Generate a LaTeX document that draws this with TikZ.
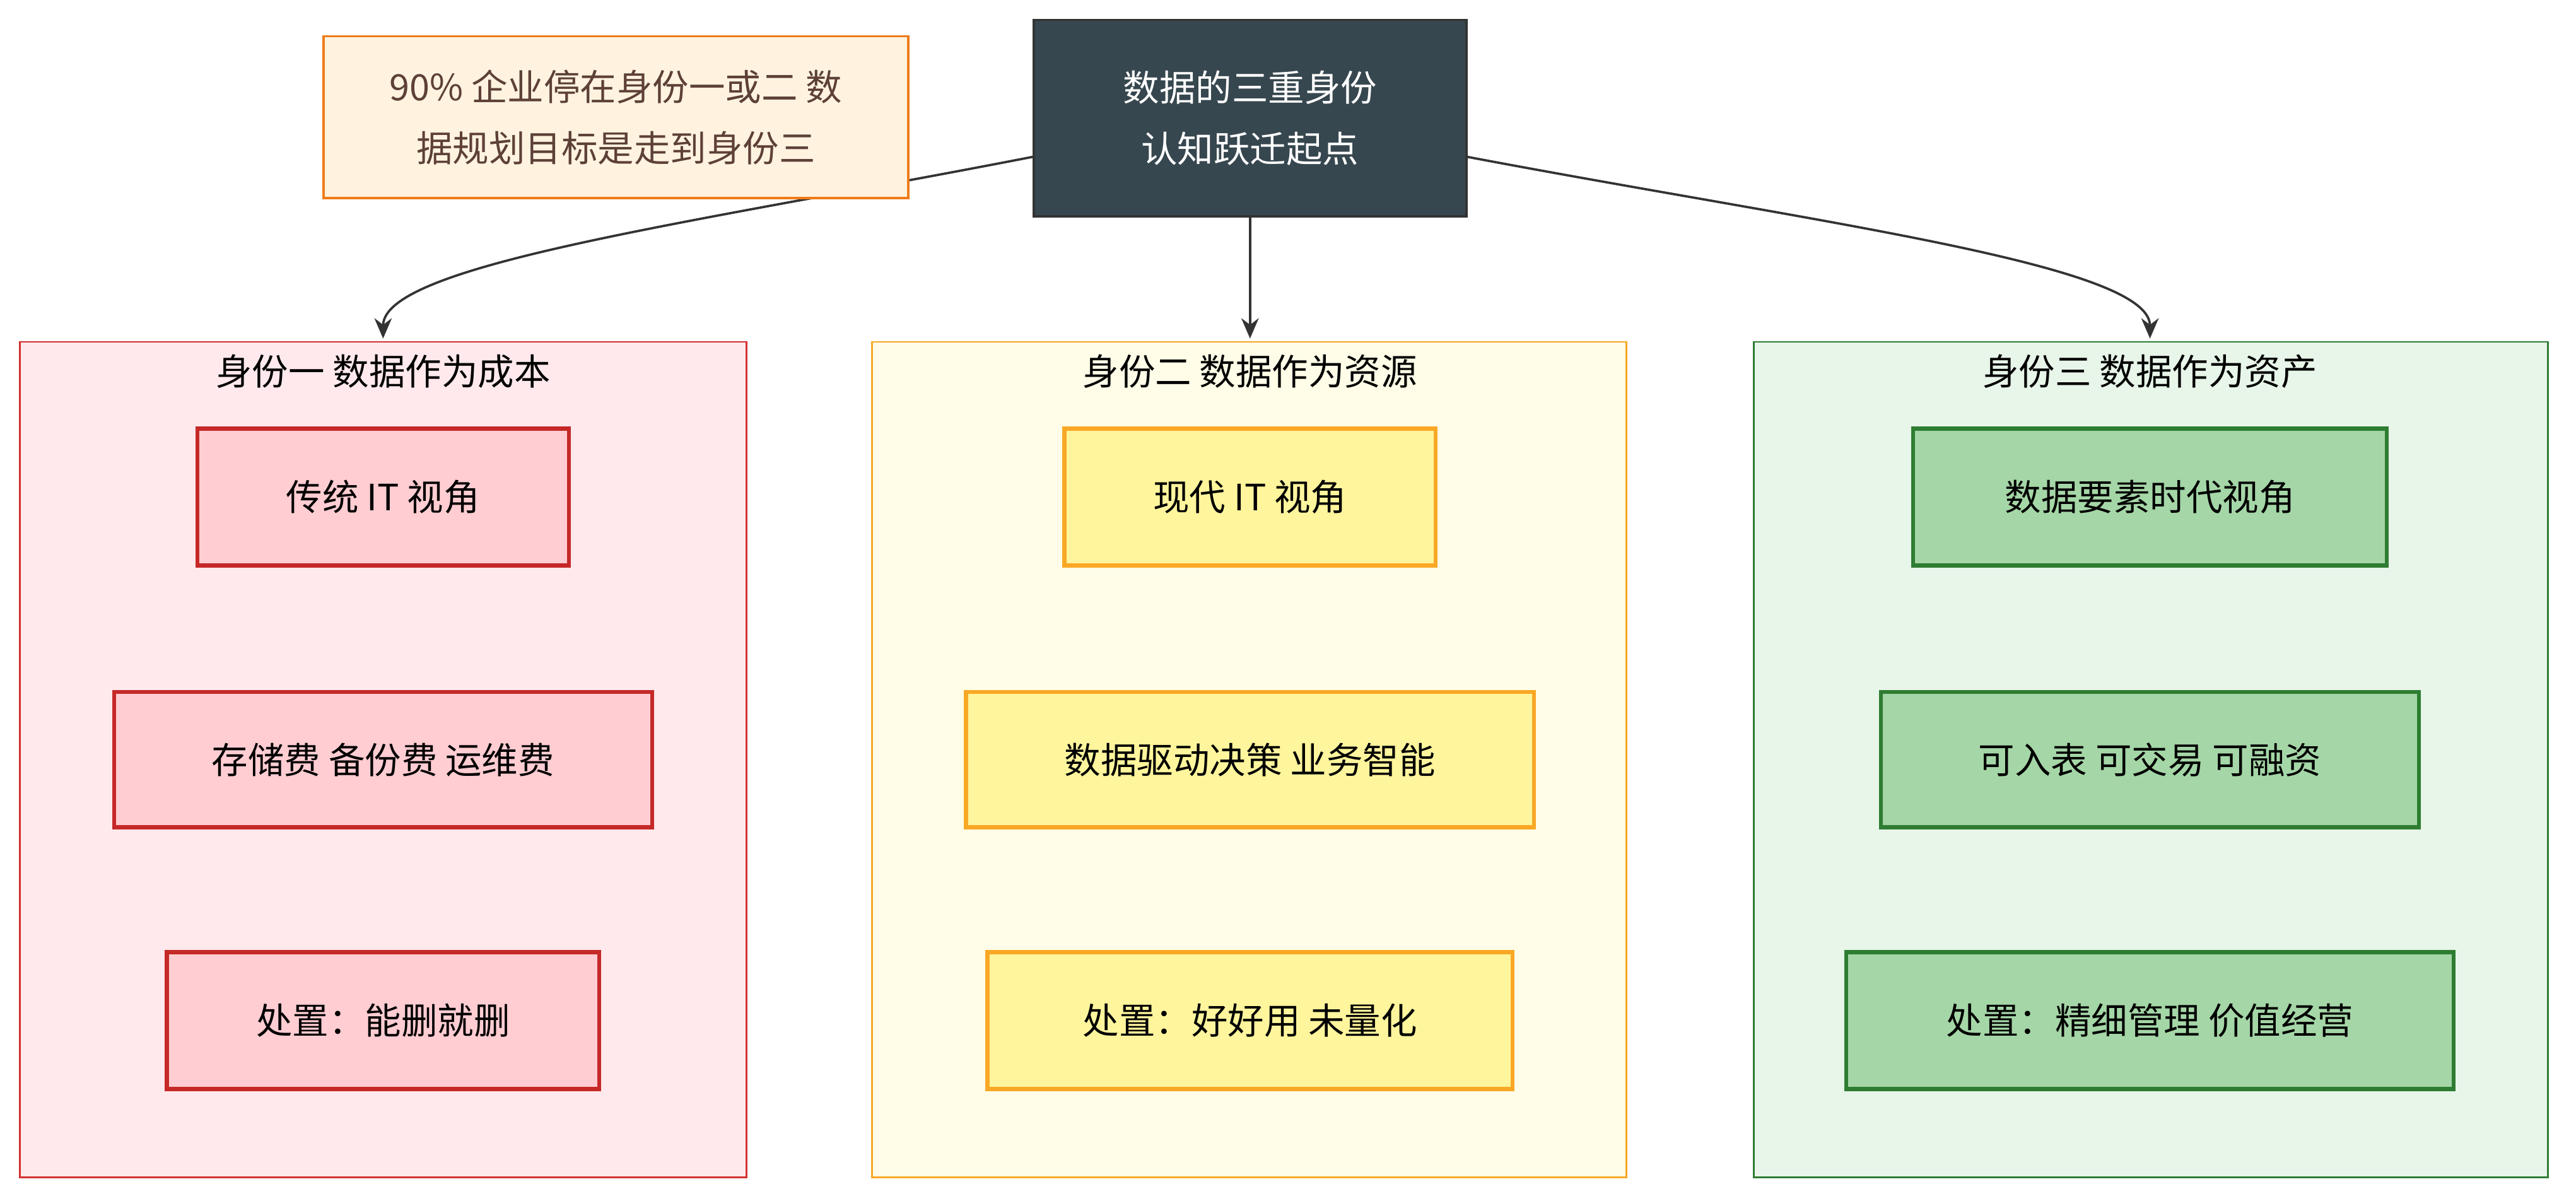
\documentclass[tikz,border=0pt]{standalone}
\usepackage{fontspec}
\setmainfont{Noto Sans CJK SC}
\usetikzlibrary{arrows.meta}
\definecolor{c1f}{HTML}{FFE9EC}\definecolor{c1b}{HTML}{D32F2F}\definecolor{n1f}{HTML}{FFCDD2}\definecolor{n1b}{HTML}{C62828}
\definecolor{c2f}{HTML}{FFFDE7}\definecolor{c2b}{HTML}{F9A825}\definecolor{n2f}{HTML}{FFF59D}
\definecolor{c3f}{HTML}{E8F5E9}\definecolor{c3b}{HTML}{2E7D32}\definecolor{n3f}{HTML}{A5D6A7}
\definecolor{topf}{HTML}{37474F}\definecolor{notef}{HTML}{FFF3E0}\definecolor{noteb}{HTML}{EF7C1A}\definecolor{notet}{HTML}{5D4037}
\begin{document}
\begin{tikzpicture}[x=0.02cm,y=-0.02cm,
 every node/.style={font=\fontsize{12.5}{17}\selectfont},
 clu/.style={draw,line width=0.6pt},
 box/.style={draw,line width=1.4pt,inner sep=0pt,align=center},
 arr/.style={draw=black!80,line width=0.8pt,-{Stealth[length=7pt,width=6pt]}}]
\useasboundingbox (0,0) rectangle (1560,727);
\newcommand\bx[7]{\node[box,fill=#5,draw=#6,minimum width={(#3-#2)*0.02cm},minimum height={(#4-#1)*0.02cm}] (#7) at ({(#2+#3)/2},{(#1+#4)/2}) {};}
% clusters
\draw[clu,fill=c1f,draw=c1b] (12,207) rectangle (452,713);
\draw[clu,fill=c2f,draw=c2b] (528,207) rectangle (985,713);
\draw[clu,fill=c3f,draw=c3b] (1062,207) rectangle (1543,713);
\node (t1) at (232,225) {身份一 数据作为成本};
\node (t2) at (757,225) {身份二 数据作为资源};
\node (t3) at (1302,225) {身份三 数据作为资产};
% nodes
\node[box,fill=n1f,draw=n1b,minimum width=4.5cm,minimum height=1.66cm] (a1) at (232,301) {传统 IT 视角};
\node[box,fill=n1f,draw=n1b,minimum width=6.52cm,minimum height=1.64cm] (a2) at (232,460) {存储费 备份费 运维费};
\node[box,fill=n1f,draw=n1b,minimum width=5.24cm,minimum height=1.66cm] (a3) at (232,618) {处置：能删就删};
\node[box,fill=n2f,draw=c2b,minimum width=4.5cm,minimum height=1.66cm] (b1) at (757,301) {现代 IT 视角};
\node[box,fill=n2f,draw=c2b,minimum width=6.88cm,minimum height=1.64cm] (b2) at (757,460) {数据驱动决策 业务智能};
\node[box,fill=n2f,draw=c2b,minimum width=6.36cm,minimum height=1.66cm] (b3) at (757,618) {处置：好好用 未量化};
\node[box,fill=n3f,draw=c3b,minimum width=5.74cm,minimum height=1.66cm] (c1) at (1302,301) {数据要素时代视角};
\node[box,fill=n3f,draw=c3b,minimum width=6.52cm,minimum height=1.64cm] (c2) at (1302,460) {可入表 可交易 可融资};
\node[box,fill=n3f,draw=c3b,minimum width=7.36cm,minimum height=1.66cm] (c3) at (1302,618) {处置：精细管理 价值经营};
% top
\node[box,fill=topf,draw=black!80,line width=0.8pt,text=white,minimum width=5.24cm,minimum height=2.38cm,font=\fontsize{12.5}{21}\selectfont] (top) at (757,71.5) {数据的三重身份\\认知跃迁起点};
\coordinate (L) at (232,205); \coordinate (M) at (757,205); \coordinate (R) at (1302,205);
\draw[arr] (top.west|-0,95) .. controls (420,135) and (232,160) .. (L);
\draw[arr] (top.south) -- (M);
\draw[arr] (top.east|-0,95) .. controls (1100,135) and (1302,160) .. (R);
% note
\node[box,fill=notef,draw=noteb,line width=0.8pt,text=notet,minimum width=7.08cm,minimum height=1.96cm,font=\fontsize{12.5}{21}\selectfont] (note) at (373,71) {90\% 企业停在身份一或二 数\\据规划目标是走到身份三};
\end{tikzpicture}
\end{document}
